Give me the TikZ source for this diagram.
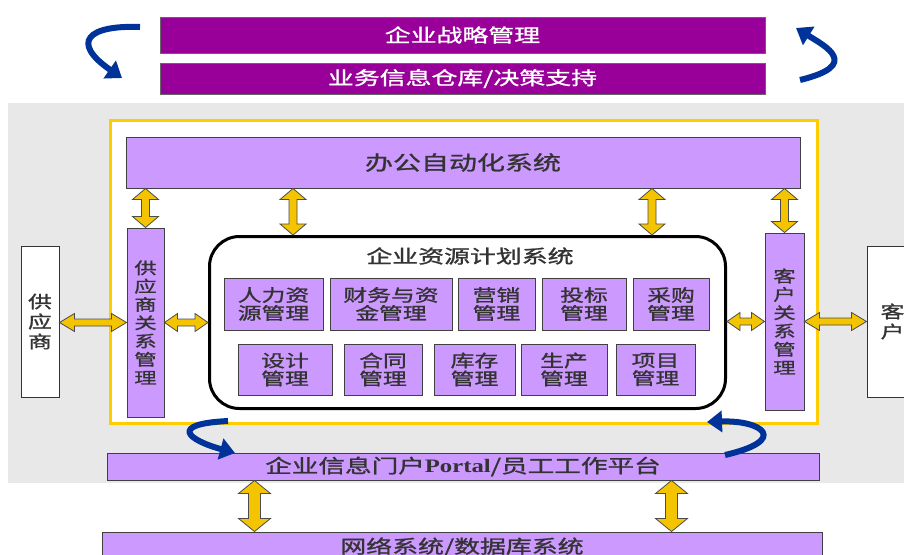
\documentclass[tikz,border=0pt]{standalone}
\usepackage{fontspec}
\usepackage{xcolor}
\usepackage{tikz}
\usetikzlibrary{arrows.meta, calc}

\newfontfamily\cjk[FakeStretch=1.4, FakeBold=1.2]{Noto Sans CJK SC}
\newfontfamily\portalfont[FakeStretch=1.3]{Liberation Serif}

\definecolor{darkpurple}{HTML}{990099}
\definecolor{lightpurple}{HTML}{CC99FF}
\definecolor{bandgray}{HTML}{E8E8E8}
\definecolor{framegold}{HTML}{FFCC00}
\definecolor{arrowgold}{HTML}{F5C400}
\definecolor{swirlblue}{HTML}{003399}
\definecolor{textgray}{HTML}{333333}

\tikzset{
  topbar/.style={draw=black!60, fill=darkpurple, text=white, line width=1pt,
    inner sep=0pt, font=\cjk\fontsize{18.5}{20}\selectfont},
  sysbar/.style={draw=black!75, fill=lightpurple, text=textgray, line width=1pt, inner sep=0pt},
  module/.style={sysbar, align=center, font=\cjk\fontsize{17}{18}\selectfont},
  vbox/.style={sysbar, align=center, font=\cjk\fontsize{16}{18.3}\selectfont},
  outside/.style={draw=black!80, fill=white, line width=1pt, inner sep=0pt,
    align=center, text=textgray, font=\cjk\fontsize{17}{20}\selectfont},
  dblarrow/.style={draw=black!70, fill=arrowgold, line width=0.8pt},
  varrow/.style n args={3}{dblarrow, to path={let \p1=(\tikztostart), \p2=(\tikztotarget) in
    (\x2,\y1) -- (\x2+#1,\y1-#3) -- (\x2+#2,\y1-#3) -- (\x2+#2,\y2+#3) -- (\x2+#1,\y2+#3)
    -- (\x2,\y2) -- (\x2-#1,\y2+#3) -- (\x2-#2,\y2+#3) -- (\x2-#2,\y1-#3) -- (\x2-#1,\y1-#3) -- cycle}},
  harrow/.style n args={3}{dblarrow, to path={let \p1=(\tikztostart), \p2=(\tikztotarget) in
    (\x1,\y2) -- (\x1+#3,\y2+#1) -- (\x1+#3,\y2+#2) -- (\x2-#3,\y2+#2) -- (\x2-#3,\y2+#1)
    -- (\x2,\y2) -- (\x2-#3,\y2-#1) -- (\x2-#3,\y2-#2) -- (\x1+#3,\y2-#2) -- (\x1+#3,\y2-#1) -- cycle}},
  swirl/.style={draw=swirlblue, line width=6pt, -{Triangle[width=21pt,length=15pt]}}
}

\begin{document}
\begin{tikzpicture}[x=1pt, y=-1pt]

\fill[white] (0,0) rectangle (904,554);
\useasboundingbox (0,0) rectangle (904,554);

% background band and frame
\fill[bandgray] (8,103) rectangle (910,483);
\draw[framegold, fill=white, line width=3pt] (110,120) rectangle (817,423);

% top layer
\node[topbar, minimum width=605pt, minimum height=36pt] at (462.5,35) (strategy) {企业战略管理};
\node[topbar, minimum width=605pt, minimum height=31pt] at (462.5,78.5) (warehouse) {业务信息仓库/决策支持};

\node[sysbar, minimum width=674pt, minimum height=51pt,
    font=\cjk\fontsize{20}{22}\selectfont] at (463,162.5) (oa) {办公自动化系统};

% side systems
\node[vbox, minimum width=37pt, minimum height=189pt] at (145.5,322.5) (srm) {供\\应\\商\\关\\系\\管\\理};
\node[vbox, minimum width=39pt, minimum height=177pt] at (784.5,321.5) (crm) {客\\户\\关\\系\\管\\理};

\node[outside, minimum width=38pt, minimum height=151pt] at (40,321.5) (supplier) {供\\应\\商};
\node[outside, minimum width=51pt, minimum height=151pt] at (892.5,321.5) (customer) {客\\户};

% ERP
\node[draw=black, line width=3pt, rounded corners=30pt, fill=white,
    minimum width=516pt, minimum height=172pt] at (467.5,322.5) (erp) {};
\node[text=textgray, font=\cjk\fontsize{18.5}{20}\selectfont] at (470,256) (erptitle) {企业资源计划系统};

\node[module, minimum width=99pt, minimum height=52pt] at (273.5,304) (hr) {人力资\\源管理};
\node[module, minimum width=122pt, minimum height=52pt] at (391,304) (finance) {财务与资\\金管理};
\node[module, minimum width=77pt, minimum height=52pt] at (496.5,304) (marketing) {营销\\管理};
\node[module, minimum width=84pt, minimum height=52pt] at (584,304) (bidding) {投标\\管理};
\node[module, minimum width=76pt, minimum height=52pt] at (671,304) (purchase) {采购\\管理};

\node[module, minimum width=94pt, minimum height=51pt] at (285,369.5) (design) {设计\\管理};
\node[module, minimum width=78pt, minimum height=51pt] at (383,369.5) (contract) {合同\\管理};
\node[module, minimum width=81pt, minimum height=51pt] at (474.5,369.5) (stock) {库存\\管理};
\node[module, minimum width=86pt, minimum height=51pt] at (564,369.5) (production) {生产\\管理};
\node[module, minimum width=79pt, minimum height=51pt] at (655.5,369.5) (project) {项目\\管理};

% bottom layer
\node[sysbar, minimum width=712pt, minimum height=27pt,
    font=\cjk\fontsize{19}{20}\selectfont] at (463,466.5) (portal)
    {企业信息门户{\portalfont\bfseries Portal}/员工工作平台};
\node[sysbar, minimum width=720pt, minimum height=30pt,
    font=\cjk\fontsize{18.5}{20}\selectfont] at (462,547) (net) {网络系统/数据库系统};

% yellow double arrows
\draw[varrow={13pt}{4pt}{11pt}] (oa.south) to (srm.north);
\draw[varrow={13pt}{4pt}{11pt}] (oa.south) to ($(erp.north west)+(85,0)$);
\draw[varrow={13pt}{4pt}{11pt}] (oa.south) to ($(erp.north east)+(-75,0)$);
\draw[varrow={13pt}{4pt}{11pt}] (oa.south) to (crm.north);
\draw[harrow={9pt}{3.5pt}{15pt}] (supplier.east) to (srm.west);
\draw[harrow={9pt}{3.5pt}{13pt}] (srm.east) to (erp.west);
\draw[harrow={9pt}{3.5pt}{13pt}] (erp.east) to (crm.west);
\draw[harrow={9pt}{3.5pt}{15pt}] (crm.east) to (customer.west);
\draw[varrow={16pt}{6pt}{13pt}] (portal.south) to ($(net.north west)+(153,0)$);
\draw[varrow={16pt}{6pt}{13pt}] (portal.south) to ($(net.north west)+(570,0)$);

% blue swirls
\coordinate (tlA) at (140,27);
\coordinate (tlB) at (122,78);
\coordinate (trA) at (800,80);
\coordinate (trB) at (796,28);
\coordinate (blA) at (228,421);
\coordinate (blB) at (235,453);
\coordinate (brA) at (725,455);
\coordinate (brB) at (707,422);
\draw[swirl] (tlA) .. controls (88,25) and (70,42) .. (tlB);
\draw[swirl] (trA) .. controls (862,65) and (825,46) .. (trB);
\draw[swirl] (blA) .. controls (168,424) and (188,440) .. (blB);
\draw[swirl] (brA) .. controls (790,440) and (762,420) .. (brB);

\end{tikzpicture}
\end{document}
